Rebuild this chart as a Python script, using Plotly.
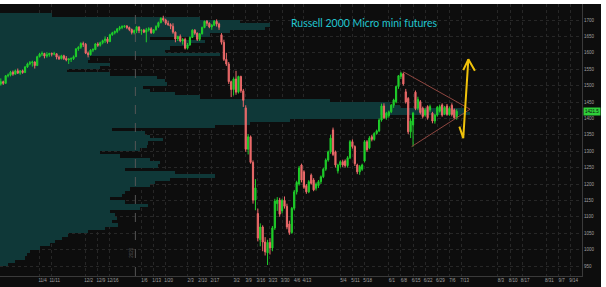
import plotly.graph_objects as go
import pandas as pd

# ---------------- data ----------------
TITLE = "Russell 2000 Micro mini futures"
LAST_PRICE = 1421.5

# daily OHLC bars, 2019-10-11 .. 2020-07-09
open_ = [
    1505, 1512, 1507, 1530, 1532, 1541, 1535, 1545, 1538, 1545, 1540, 1557, 1566, 1570, 1572, 1561,
    1588, 1596, 1598, 1590, 1594, 1598, 1596, 1597, 1587, 1582, 1591, 1583, 1578, 1581, 1582, 1588, 1612, 1617, 1628,
    1626, 1599, 1594, 1608, 1610, 1627, 1623, 1631, 1637, 1642, 1634, 1655, 1661, 1665, 1673, 1677, 1680, 1682, 1677, 1671, 1662,
    1668, 1679, 1668, 1669, 1663, 1670, 1673, 1661, 1670, 1680, 1692, 1705, 1700, 1690, 1686, 1681, 1663, 1642, 1650, 1636, 1641,
    1614, 1624, 1647, 1669, 1660, 1641, 1658, 1677, 1696, 1690, 1679, 1684, 1696, 1688, 1655, 1632, 1580, 1566, 1512,
    1488, 1520, 1480, 1528, 1484, 1432, 1306, 1344, 1266, 1151, 1110, 1030, 1069, 1023, 990,
    1022, 1005, 1066, 1140, 1151, 1118, 1150, 1132, 1078, 1052, 1126, 1176, 1200, 1258, 1237, 1195, 1176, 1227, 1212, 1187,
    1195, 1207, 1222, 1245, 1273, 1298, 1365, 1298, 1240, 1258, 1268, 1270, 1256, 1280, 1329, 1314, 1258, 1237, 1245, 1270,
    1329, 1310, 1344, 1336, 1354, 1362, 1395, 1438, 1402, 1408, 1420, 1440, 1451, 1497, 1528, 1536, 1481, 1461, 1359, 1380,
    1480, 1431, 1451, 1431, 1410, 1436, 1426, 1416, 1392, 1410, 1422, 1441, 1414, 1438, 1412, 1440, 1426, 1402,
]
high = [
    1522, 1515, 1532, 1537, 1545, 1546, 1549, 1552, 1547, 1549, 1560, 1570, 1575, 1576, 1574, 1591,
    1600, 1604, 1600, 1602, 1600, 1601, 1603, 1598, 1592, 1594, 1594, 1590, 1584, 1586, 1592, 1614, 1620, 1632, 1634,
    1630, 1604, 1611, 1614, 1630, 1632, 1634, 1640, 1650, 1648, 1658, 1664, 1668, 1675, 1682, 1684, 1684, 1684, 1680, 1674, 1671,
    1682, 1680, 1672, 1673, 1676, 1678, 1678, 1672, 1684, 1695, 1708, 1713, 1704, 1698, 1690, 1690, 1665, 1652, 1656, 1645, 1646,
    1630, 1650, 1672, 1672, 1662, 1660, 1680, 1698, 1700, 1693, 1688, 1700, 1702, 1692, 1660, 1640, 1600, 1572, 1515,
    1525, 1545, 1530, 1530, 1490, 1440, 1352, 1348, 1272, 1215, 1125, 1080, 1074, 1038, 1030,
    1035, 1072, 1155, 1160, 1158, 1155, 1162, 1140, 1088, 1130, 1182, 1210, 1255, 1262, 1242, 1200, 1212, 1232, 1218, 1205,
    1212, 1226, 1250, 1278, 1302, 1350, 1372, 1302, 1262, 1272, 1274, 1275, 1285, 1334, 1336, 1318, 1262, 1258, 1262, 1334,
    1334, 1346, 1350, 1358, 1366, 1400, 1445, 1446, 1420, 1424, 1444, 1460, 1500, 1532, 1542, 1540, 1490, 1465, 1400, 1420,
    1485, 1466, 1456, 1436, 1432, 1440, 1442, 1420, 1414, 1438, 1442, 1446, 1438, 1444, 1436, 1446, 1430, 1428,
]
low = [
    1500, 1502, 1505, 1525, 1528, 1530, 1533, 1536, 1533, 1536, 1538, 1554, 1562, 1558, 1552, 1560,
    1586, 1590, 1583, 1585, 1588, 1589, 1592, 1580, 1578, 1580, 1578, 1574, 1566, 1572, 1578, 1587, 1606, 1612, 1618,
    1596, 1586, 1592, 1602, 1608, 1618, 1619, 1626, 1630, 1628, 1633, 1652, 1656, 1660, 1668, 1672, 1676, 1672, 1666, 1656, 1656,
    1660, 1660, 1655, 1660, 1632, 1665, 1658, 1658, 1668, 1676, 1690, 1695, 1685, 1682, 1672, 1658, 1632, 1636, 1632, 1625, 1610,
    1610, 1622, 1645, 1655, 1636, 1636, 1656, 1675, 1682, 1675, 1670, 1682, 1680, 1670, 1625, 1575, 1560, 1505, 1465,
    1470, 1472, 1476, 1478, 1435, 1298, 1290, 1262, 1140, 1120, 1025, 1010, 995, 982, 953,
    985, 995, 1060, 1118, 1100, 1110, 1125, 1062, 1045, 1048, 1120, 1168, 1195, 1205, 1185, 1170, 1172, 1198, 1178, 1180,
    1188, 1200, 1218, 1240, 1268, 1292, 1285, 1250, 1232, 1250, 1252, 1250, 1250, 1276, 1308, 1255, 1230, 1228, 1240, 1266,
    1298, 1306, 1330, 1332, 1350, 1358, 1390, 1398, 1396, 1402, 1416, 1432, 1446, 1490, 1520, 1500, 1445, 1352, 1340, 1314,
    1425, 1425, 1412, 1400, 1405, 1396, 1420, 1385, 1384, 1405, 1418, 1405, 1410, 1408, 1408, 1406, 1398, 1396,
]
close = [
    1512, 1507, 1530, 1532, 1541, 1535, 1545, 1538, 1545, 1540, 1557, 1566, 1570, 1572, 1561, 1588,
    1596, 1598, 1590, 1594, 1598, 1596, 1597, 1587, 1582, 1591, 1583, 1578, 1581, 1582, 1588, 1612, 1617, 1628, 1626,
    1599, 1594, 1608, 1610, 1627, 1623, 1631, 1637, 1642, 1634, 1655, 1661, 1665, 1673, 1677, 1680, 1682, 1677, 1671, 1662, 1668,
    1679, 1668, 1669, 1663, 1670, 1673, 1661, 1670, 1680, 1692, 1705, 1700, 1690, 1686, 1681, 1663, 1642, 1650, 1636, 1641, 1614,
    1624, 1647, 1669, 1660, 1641, 1658, 1677, 1696, 1690, 1679, 1684, 1696, 1688, 1678, 1632, 1580, 1566, 1512, 1488,
    1520, 1480, 1528, 1484, 1455, 1306, 1344, 1266, 1151, 1188, 1035, 1069, 1023, 993, 1022,
    1005, 1066, 1148, 1151, 1108, 1150, 1132, 1069, 1052, 1126, 1176, 1205, 1249, 1212, 1190, 1176, 1207, 1202, 1182, 1200,
    1207, 1222, 1245, 1273, 1298, 1340, 1290, 1258, 1258, 1268, 1258, 1256, 1280, 1329, 1314, 1262, 1237, 1253, 1258, 1329,
    1304, 1340, 1336, 1354, 1362, 1395, 1438, 1402, 1416, 1420, 1440, 1456, 1497, 1530, 1537, 1505, 1450, 1359, 1392, 1416,
    1430, 1458, 1418, 1406, 1426, 1402, 1436, 1392, 1410, 1434, 1436, 1410, 1434, 1412, 1430, 1412, 1402, 1421.5,
]
assert len(open_) == len(high) == len(low) == len(close)

# volume profile (price bin centre -> relative volume)
profile_price = list(range(955, 1716, 10))
profile_volume = [
    8, 15, 25, 27, 30, 40, 50, 55, 62, 68,            # 955-1045
    88, 105, 118, 112, 117, 115, 110, 140, 148, 125,  # 1055-1145
    110, 122, 125, 130, 150, 155, 170, 215, 175, 125, # 1155-1245
    158, 160, 150, 120, 100, 140, 147, 148, 163, 150, # 1255-1345
    145, 112, 215, 250, 290, 380, 470, 465, 400, 390, # 1355-1445
    330, 200, 175, 150, 143, 167, 165, 157, 110, 67,  # 1455-1545
    100, 110, 88, 90, 220, 165, 170, 190, 205, 150,   # 1555-1645
    210, 230, 265, 270, 240, 200, 52,                 # 1655-1715
]

tick_dates = ["2019-11-04", "2019-11-11", "2019-12-02", "2019-12-09", "2019-12-16", "2020-01-06",
              "2020-01-13", "2020-01-20", "2020-02-03", "2020-02-10", "2020-02-17", "2020-03-02",
              "2020-03-09", "2020-03-16", "2020-03-23", "2020-03-30", "2020-04-06", "2020-04-13",
              "2020-05-04", "2020-05-11", "2020-05-18", "2020-06-01", "2020-06-08", "2020-06-15",
              "2020-06-22", "2020-06-29", "2020-07-06", "2020-07-13", "2020-08-03", "2020-08-10",
              "2020-08-17", "2020-08-31", "2020-09-07", "2020-09-14"]
tick_labels = [pd.Timestamp(d).strftime("%-m/%-d") for d in tick_dates]
price_ticks = list(range(950, 1701, 50))
YEAR_LABEL = "2020"

# drawings (bar index, price)
tri_upper_x, tri_upper_y = [166.0, 193.5], [1542, 1428]
tri_lower_x, tri_lower_y = [169.4, 193.5], [1314, 1428]
arrow_x = [189.1, 190.7, 192.8]
arrow_y = [1375, 1340, 1580]
arrowhead_x = [190.7, 192.8, 195.5]
arrowhead_y = [1547, 1580, 1545]

# ---------------- calendar / axes ----------------
holidays = pd.to_datetime(["2019-11-28", "2019-12-25", "2020-01-01", "2020-01-20",
                           "2020-02-17", "2020-04-10"])
cal = pd.bdate_range("2019-10-11", "2020-10-30")
cal = cal[~cal.isin(holidays)]
bar_x = list(range(len(close)))
tickvals = [int(cal.searchsorted(pd.Timestamp(d))) for d in tick_dates]
year_break = cal.get_loc(pd.Timestamp("2020-01-02")) - 0.5

X0, X1 = -0.33, 239.67
Y0, Y1 = 919.5, 1748.8
W, H = 606, 287
ML, MR, MT, MB = 0, 24, 4, 11
vol_scale = (X1 - X0) / (W - ML - MR)

BG = "#0d0d0d"
GRID = "#272727"
TICKC = "#a0a0a0"

fig = go.Figure()

fig.add_trace(go.Bar(
    orientation="h",
    y=profile_price,
    x=[v * vol_scale for v in profile_volume],
    base=X0,
    width=10.8,
    marker=dict(color="#0f3838", line=dict(width=0)),
    hoverinfo="skip",
    showlegend=False,
))

fig.add_trace(go.Candlestick(
    x=bar_x, open=open_, high=high, low=low, close=close,
    increasing=dict(line=dict(color="#1fcf2a", width=1), fillcolor="#1fcf2a"),
    decreasing=dict(line=dict(color="#ec6a6a", width=1), fillcolor="#ec6a6a"),
    whiskerwidth=0,
    showlegend=False,
))

for xs, ys in [(tri_upper_x, tri_upper_y), (tri_lower_x, tri_lower_y)]:
    fig.add_trace(go.Scatter(x=xs, y=ys, mode="lines",
                             line=dict(color="#8e4640", width=1),
                             hoverinfo="skip", showlegend=False))

for xs, ys in [(arrow_x, arrow_y), (arrowhead_x, arrowhead_y)]:
    fig.add_trace(go.Scatter(x=xs, y=ys, mode="lines",
                             line=dict(color="#f0c20a", width=2),
                             hoverinfo="skip", showlegend=False))

fig.add_shape(type="line", x0=year_break, x1=year_break, y0=0, y1=1,
              xref="x", yref="paper", line=dict(color="#555555", width=1, dash="dash"))
fig.add_annotation(text=YEAR_LABEL, x=year_break - 1.6, y=0.06, xref="x", yref="paper",
                   textangle=-90, showarrow=False,
                   font=dict(family="Liberation Sans", size=4.5, color="#5a5a5a"))

# white frame strips of the screenshot
fig.add_shape(type="rect", xref="paper", yref="paper", x0=-0.01, x1=1.06,
              y0=1.0, y1=1.0 + (MT + 2) / (H - MT - MB), fillcolor="white", line=dict(width=0), layer="above")
fig.add_shape(type="rect", xref="paper", yref="paper", x0=(601 - ML) / (W - ML - MR), x1=1.06,
              y0=-0.1, y1=1.05, fillcolor="white", line=dict(width=0), layer="above")

fig.add_annotation(text=TITLE, xref="paper", yref="paper",
                   x=289 / (W - ML - MR), y=1 - (23 - MT) / (H - MT - MB),
                   xanchor="left", yanchor="middle", showarrow=False,
                   font=dict(family="Lato", size=10.5, color="#22c6d0"))

fig.add_annotation(text=f"{LAST_PRICE}", xref="paper", yref="y",
                   x=1.002, y=LAST_PRICE, xanchor="left", yanchor="middle", showarrow=False,
                   bgcolor="#2fcf3a", borderpad=1,
                   font=dict(family="Liberation Sans", size=4.5, color="#0b0b0b"))

fig.update_layout(
    width=W, height=H,
    margin=dict(l=ML, r=MR, t=MT, b=MB),
    paper_bgcolor=BG, plot_bgcolor=BG,
    bargap=0, showlegend=False,
    xaxis=dict(range=[X0, X1], tickvals=tickvals, ticktext=tick_labels, tickangle=0,
               ticklabelshift=3,
               showgrid=True, gridcolor=GRID, griddash="dot", gridwidth=1,
               zeroline=False, showline=True, linecolor="#3a3a3a", ticks="",
               tickfont=dict(family="Liberation Sans", size=4.5, color=TICKC),
               rangeslider=dict(visible=False), fixedrange=True),
    yaxis=dict(range=[Y0, Y1], side="right", tickvals=price_ticks,
               showgrid=True, gridcolor=GRID, griddash="dot", gridwidth=1,
               zeroline=False, showline=True, linecolor="#3a3a3a", ticks="",
               tickfont=dict(family="Liberation Sans", size=4.5, color=TICKC), fixedrange=True),
)

fig.write_html("out.html")
